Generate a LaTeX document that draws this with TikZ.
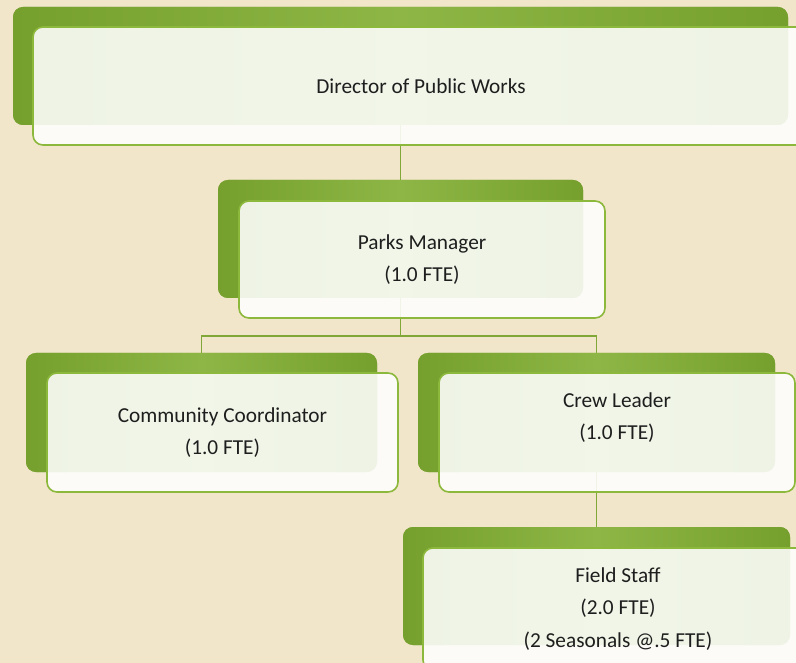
\documentclass[tikz,border=0pt]{standalone}
\usepackage{fontspec}
\setmainfont{Carlito}
\definecolor{bgc}{HTML}{F2E6CA}
\definecolor{gdark}{HTML}{76A02D}
\definecolor{glight}{HTML}{8DB646}
\definecolor{gline}{HTML}{80A838}
\definecolor{gborder}{HTML}{8CB83C}
\definecolor{txtc}{HTML}{1E1E1E}
\tikzset{
  backbox/.style={rectangle, rounded corners=10pt, inner sep=0pt, outer sep=0pt,
    left color=gdark, right color=gdark, middle color=glight, anchor=north west},
  frontbox/.style={rectangle, rounded corners=10pt, inner sep=0pt, outer sep=0pt,
    draw=gborder, line width=1.6pt, fill=white, fill opacity=0.88, text opacity=1,
    anchor=north west, align=center, text=txtc,
    font=\fontsize{21.3pt}{32.5pt}\selectfont},
  conn/.style={draw=gline, line width=1.5pt}
}
\begin{document}
\begin{tikzpicture}[x=1pt,y=-1pt]
\useasboundingbox (0,0) rectangle (796,663);
\fill[bgc] (0,0) rectangle (796,663);
\clip (0,0) rectangle (796,663);
% back boxes
\node[backbox, minimum width=775pt, minimum height=118pt] (dirB) at (13,7) {};
\node[backbox, minimum width=365pt, minimum height=118pt] (pmB) at (218,180) {};
\node[backbox, minimum width=351pt, minimum height=119pt] (ccB) at (26,353) {};
\node[backbox, minimum width=357pt, minimum height=119pt] (clB) at (418,353) {};
\node[backbox, minimum width=387pt, minimum height=118pt] (fsB) at (403,527) {};
% connectors (behind front boxes)
\coordinate (bus) at (400.5,336);
\draw[conn] (dirB.center) -- (pmB.center);
\draw[conn] (pmB.center) -- (bus) -| (ccB.center);
\draw[conn] (bus) -| (clB.center);
\draw[conn] (clB.center) -- (fsB.center);
% re-draw back boxes over connectors
\node[backbox, minimum width=775pt, minimum height=118pt] at (13,7) {};
\node[backbox, minimum width=365pt, minimum height=118pt] at (218,180) {};
\node[backbox, minimum width=351pt, minimum height=119pt] at (26,353) {};
\node[backbox, minimum width=357pt, minimum height=119pt] at (418,353) {};
\node[backbox, minimum width=387pt, minimum height=118pt] at (403,527) {};
% front boxes
\node[frontbox, minimum width=776pt, minimum height=118pt] (dirF) at (33,27) {Director of Public Works};
\node[frontbox, minimum width=366pt, minimum height=117pt] (pmF) at (239,201) {Parks Manager\\(1.0 FTE)};
\node[frontbox, minimum width=351pt, minimum height=119pt] (ccF) at (47,373) {Community Coordinator\\(1.0 FTE)};
\node[frontbox, minimum width=356pt, minimum height=119pt] (clF) at (439,373) {Crew Leader\\(1.0 FTE)\\\mbox{}};
\node[frontbox, minimum width=390pt, minimum height=122pt] (fsF) at (423,548) {Field Staff\\(2.0 FTE)\\(2 Seasonals @.5 FTE)};
\end{tikzpicture}
\end{document}
